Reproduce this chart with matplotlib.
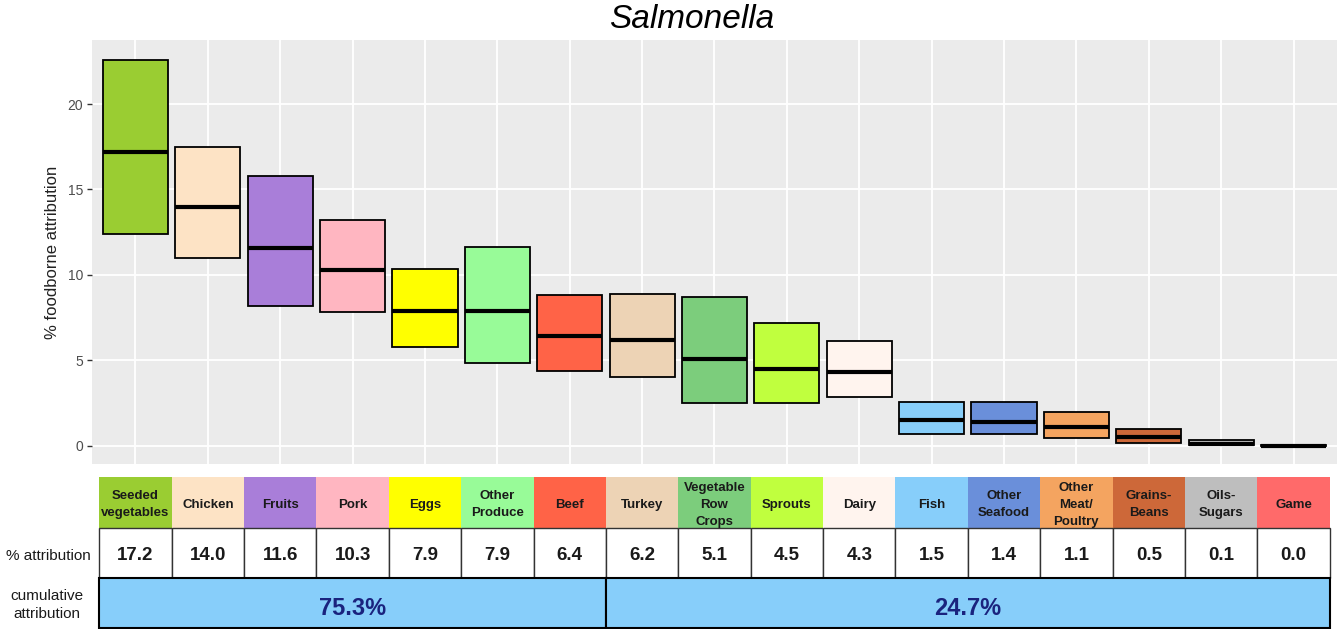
import numpy as np
import matplotlib
matplotlib.use("Agg")
import matplotlib.pyplot as plt
from matplotlib.patches import Rectangle

plt.rcParams['font.family'] = ['Liberation Sans', 'DejaVu Sans']

# Data =============================================
labels = ["Seeded\nvegetables", "Chicken", "Fruits", "Pork", "Eggs", "Other\nProduce",
          "Beef", "Turkey", "Vegetable\nRow\nCrops", "Sprouts", "Dairy", "Fish",
          "Other\nSeafood", "Other\nMeat/\nPoultry", "Grains-\nBeans", "Oils-\nSugars", "Game"]
attribution = [17.2, 14.0, 11.6, 10.3, 7.9, 7.9, 6.4, 6.2, 5.1, 4.5, 4.3, 1.5, 1.4, 1.1, 0.5, 0.1, 0.0]
lower = [12.4, 11.0, 8.2, 7.8, 5.8, 4.85, 4.4, 4.05, 2.5, 2.5, 2.85, 0.7, 0.7, 0.45, 0.18, 0.03, 0.0]
upper = [22.6, 17.5, 15.8, 13.2, 10.35, 11.65, 8.8, 8.9, 8.7, 7.2, 6.15, 2.55, 2.55, 1.95, 0.95, 0.35, 0.06]
colors = ["#9ACD32", "#FDE3C5", "#A97ED9", "#FFB6C1", "#FFFF00", "#98FB98", "#FF6347",
          "#EDD3B5", "#7CCD7C", "#C0FF3E", "#FFF4EE", "#87CEFA", "#6A8FDA", "#F4A460",
          "#CD6839", "#BEBEBE", "#FF6A6A"]
split = 7  # first group of the cumulative row

W, H = 1337, 630
fig = plt.figure(figsize=(W / 100, H / 100), dpi=100)

def fx(px):
    return px / W

def fy(py):
    return 1 - py / H

x = np.arange(1, len(labels) + 1)
xlim = (0.4, len(labels) + 0.6)

# Main panel =============================================
ax = fig.add_axes([fx(92), fy(464), fx(1245), 424 / H])
ax.set_facecolor("#EBEBEB")
for s in ax.spines.values():
    s.set_visible(False)
ax.set_xlim(xlim)
ax.set_ylim(-1.07, 23.75)
ax.set_yticks([0, 5, 10, 15, 20])
ax.set_xticks(x)
ax.set_xticklabels([])
ax.grid(True, color="white", lw=1.3)
ax.set_axisbelow(True)
ax.tick_params(axis="x", length=0)
ax.tick_params(axis="y", length=3.5, width=1, color="#333333", labelcolor="#4D4D4D",
               labelsize=10, pad=3)
ax.set_ylabel("% foodborne attribution", fontsize=12, color="#222222", labelpad=5)

bw = 0.9
for i in range(len(labels)):
    ax.add_patch(Rectangle((x[i] - bw / 2, lower[i]), bw, upper[i] - lower[i],
                           facecolor=colors[i], edgecolor="black", lw=1.3, zorder=3))
    ax.plot([x[i] - bw / 2, x[i] + bw / 2], [attribution[i], attribution[i]],
            color="black", lw=3, solid_capstyle="butt", zorder=4)

fig.text(fx(692), fy(20), "Salmonella", fontsize=24, style="italic",
         ha="center", va="center")

# Table =============================================
tab = fig.add_axes([fx(92), fy(629), fx(1245), 152 / H])
tab.set_xlim(xlim)
tab.set_ylim(0, 3)
tab.axis("off")

for i in range(len(labels)):
    tab.add_patch(Rectangle((x[i] - 0.5, 2), 1, 1, facecolor=colors[i], edgecolor="none"))
    tab.text(x[i], 2.45, labels[i], ha="center", va="center", fontsize=9.5,
             fontweight="bold", color="#1A1A1A", linespacing=1.55)
    tab.add_patch(Rectangle((x[i] - 0.5, 1), 1, 1, facecolor="white",
                            edgecolor="#333333", lw=1))
    tab.text(x[i], 1.45, "%.1f" % attribution[i], ha="center", va="center",
             fontsize=13.5, fontweight="bold", color="#1A1A1A")

groups = [(0, split), (split, len(labels))]
for a, b in groups:
    tab.add_patch(Rectangle((a + 0.5, 0.02), b - a, 0.98, facecolor="#87CEFA",
                            edgecolor="black", lw=1.5))
    total = sum(attribution[a:b])
    tab.text((a + b) / 2 + 0.5, 0.4, "%.1f%%" % total, ha="center", va="center",
             fontsize=17, fontweight="bold", color="#1A237E")

fig.text(fx(48), fy(556), "% attribution", ha="center", va="center", fontsize=11,
         color="#1A1A1A")
fig.text(fx(47), fy(605), "cumulative\nattribution", ha="center", va="center",
         fontsize=11, color="#1A1A1A", linespacing=1.45)

fig.savefig("out.png", dpi=100)
